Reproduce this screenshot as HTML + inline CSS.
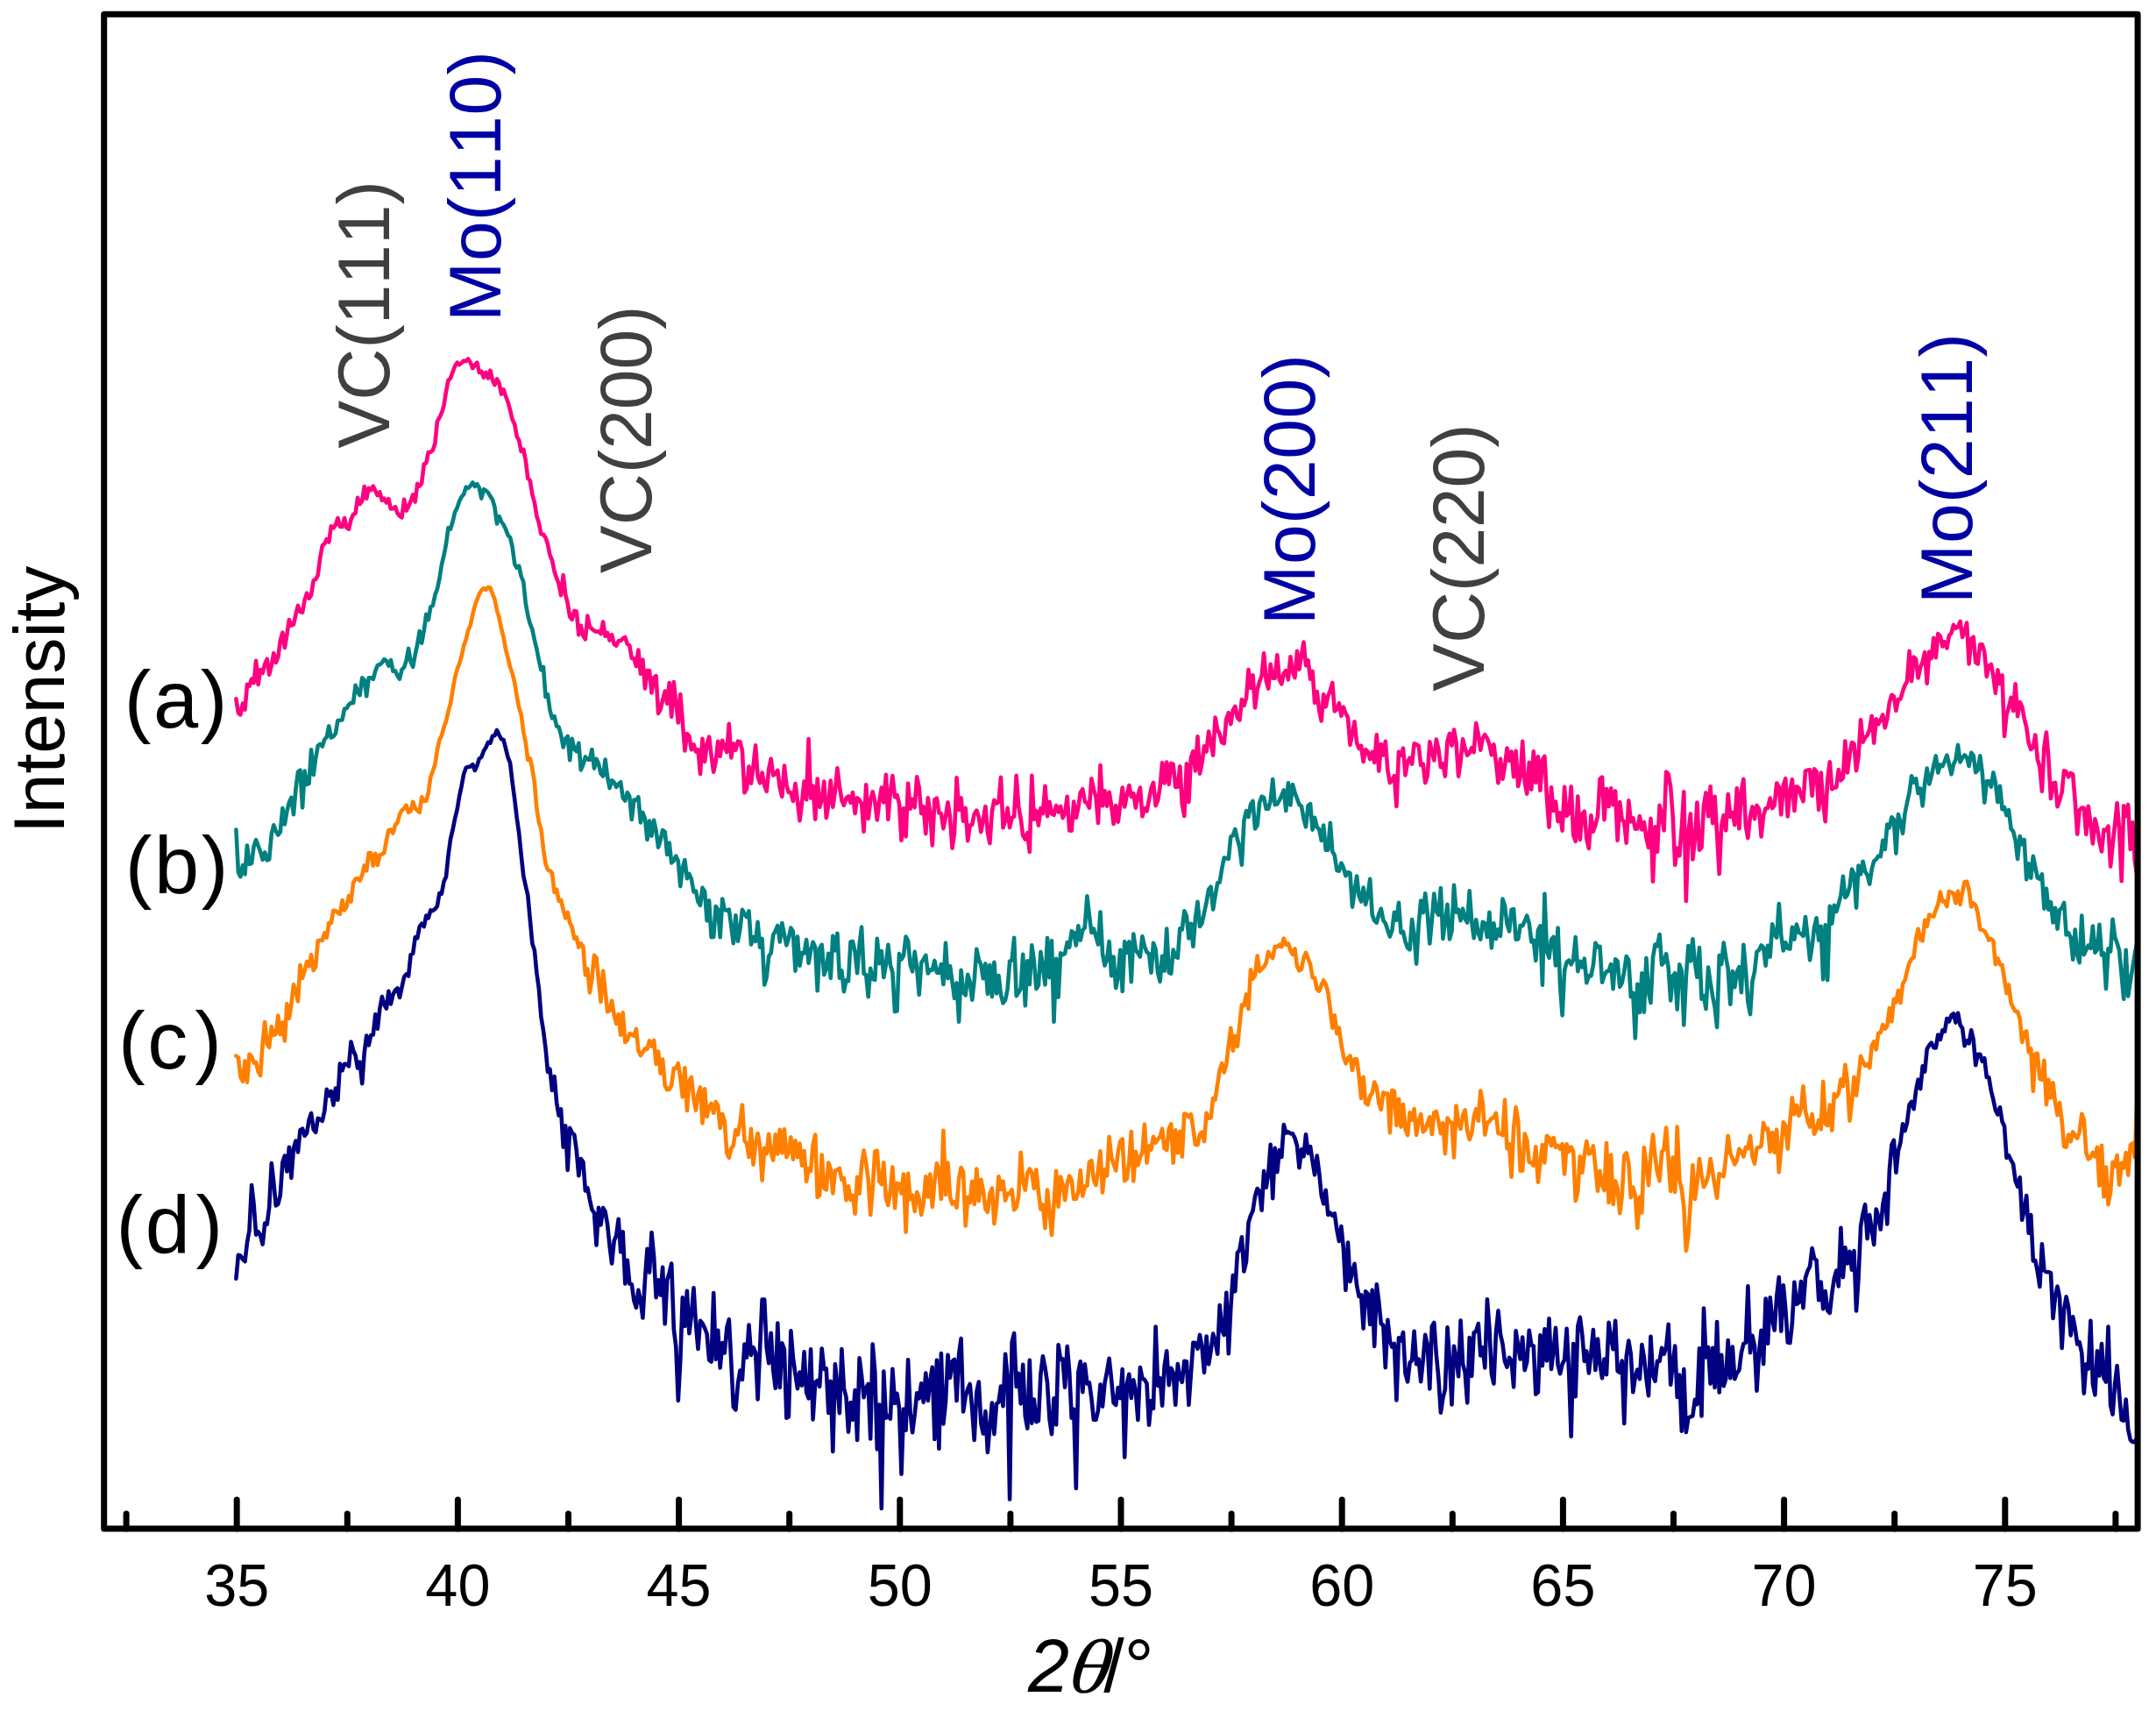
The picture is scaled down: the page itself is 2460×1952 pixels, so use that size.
<!DOCTYPE html>
<html lang="en"><head><meta charset="utf-8"><title>XRD patterns</title>
<style>
html,body{margin:0;padding:0;background:#fff;}
body{width:2460px;height:1952px;overflow:hidden;}
svg{display:block;}
text{font-family:"Liberation Sans",Arial,Helvetica,sans-serif;font-kerning:none;font-variant-ligatures:none;}
.tk{font-size:66.6px;fill:#000;text-anchor:middle;}
.lab{font-size:92px;fill:#000;letter-spacing:2.6px;}
.pk{font-size:82px;}
.vc{fill:#404040;}
.mo{fill:#0000A5;letter-spacing:0.6px;}
.ax{stroke:#000;stroke-width:7;fill:none;stroke-linecap:round;stroke-linejoin:round;}
.cv{fill:none;stroke-width:4.6;stroke-linejoin:round;stroke-linecap:round;}
</style></head><body>
<svg width="2460" height="1952" viewBox="0 0 2460 1952">
<rect x="0" y="0" width="2460" height="1952" fill="#ffffff"/>
<path class="cv" stroke="#FF0080" d="M269.4,797.3 L271.9,813.4 L274.4,815.4 L277.0,802.5 L279.5,809.7 L282.0,780.7 L284.5,782.8 L287.1,774.5 L289.6,779.1 L292.1,753.9 L294.6,781.0 L297.1,764.1 L299.7,767.8 L302.2,757.6 L304.7,751.9 L307.2,769.7 L309.8,759.2 L312.3,745.2 L314.8,756.0 L317.3,749.7 L319.8,730.8 L322.4,721.6 L324.9,739.0 L327.4,724.0 L329.9,707.0 L332.4,713.6 L335.0,712.5 L337.5,700.7 L340.0,690.9 L342.5,698.1 L345.1,698.7 L347.6,684.6 L350.1,676.6 L352.6,682.7 L355.1,678.8 L357.7,662.3 L360.2,660.8 L362.7,656.3 L365.2,636.8 L367.8,622.3 L370.3,620.4 L372.8,615.1 L375.3,618.5 L377.8,600.3 L380.4,602.3 L382.9,598.9 L385.4,591.0 L387.9,600.7 L390.5,601.1 L393.0,591.0 L395.5,602.0 L398.0,603.7 L400.5,592.7 L403.1,586.8 L405.6,585.7 L408.1,567.9 L410.6,575.1 L413.2,571.6 L415.7,555.1 L418.2,568.8 L420.7,556.8 L423.2,559.1 L425.8,554.6 L428.3,560.0 L430.8,565.2 L433.3,561.3 L435.9,571.0 L438.4,568.6 L440.9,573.5 L443.4,569.2 L445.9,580.5 L448.5,580.3 L451.0,578.2 L453.5,585.5 L456.0,588.7 L458.5,590.5 L461.1,569.7 L463.6,582.6 L466.1,577.6 L468.6,571.9 L471.2,564.3 L473.7,572.5 L476.2,551.9 L478.7,554.6 L481.2,551.3 L483.8,529.3 L486.3,528.3 L488.8,516.0 L491.3,515.7 L493.9,513.6 L496.4,506.1 L498.9,480.8 L501.4,476.4 L503.9,471.3 L506.5,462.7 L509.0,446.5 L511.5,433.7 L514.0,431.5 L516.6,424.4 L519.1,417.8 L521.6,413.6 L524.1,416.0 L526.6,414.1 L529.2,411.5 L531.7,412.1 L534.2,409.4 L536.7,413.2 L539.3,420.1 L541.8,416.5 L544.3,413.6 L546.8,424.9 L549.3,423.6 L551.9,430.6 L554.4,424.9 L556.9,431.5 L559.4,422.6 L562.0,433.9 L564.5,439.2 L567.0,432.4 L569.5,437.0 L572.0,449.6 L574.6,444.4 L577.1,452.2 L579.6,458.8 L582.1,467.9 L584.6,478.5 L587.2,484.0 L589.7,497.9 L592.2,502.2 L594.7,515.0 L597.3,512.8 L599.8,525.2 L602.3,545.7 L604.8,548.1 L607.3,563.9 L609.9,573.3 L612.4,588.6 L614.9,596.7 L617.4,609.2 L620.0,609.7 L622.5,613.3 L625.0,620.9 L627.5,633.4 L630.0,639.2 L632.6,652.0 L635.1,659.5 L637.6,666.3 L640.1,679.1 L642.7,656.0 L645.2,678.2 L647.7,688.4 L650.2,703.7 L652.7,706.7 L655.3,696.9 L657.8,697.4 L660.3,724.2 L662.8,713.8 L665.4,725.3 L667.9,729.4 L670.4,702.6 L672.9,715.4 L675.4,717.4 L678.0,719.6 L680.5,720.7 L683.0,720.3 L685.5,723.0 L688.1,709.4 L690.6,725.7 L693.1,722.0 L695.6,730.5 L698.1,724.2 L700.7,734.9 L703.2,736.6 L705.7,731.1 L708.2,730.9 L710.7,728.3 L713.3,727.0 L715.8,734.9 L718.3,736.4 L720.8,750.9 L723.4,751.3 L725.9,760.1 L728.4,741.5 L730.9,768.7 L733.4,752.6 L736.0,785.5 L738.5,765.1 L741.0,765.0 L743.5,790.4 L746.1,773.1 L748.6,771.1 L751.1,813.9 L753.6,809.6 L756.1,798.8 L758.7,788.5 L761.2,802.7 L763.7,779.1 L766.2,817.8 L768.8,778.0 L771.3,801.7 L773.8,824.5 L776.3,792.1 L778.8,823.2 L781.4,856.5 L783.9,837.1 L786.4,839.8 L788.9,855.2 L791.5,849.4 L794.0,857.5 L796.5,855.1 L799.0,883.0 L801.5,842.9 L804.1,868.9 L806.6,849.4 L809.1,840.6 L811.6,861.8 L814.2,880.7 L816.7,868.7 L819.2,845.7 L821.7,862.8 L824.2,844.9 L826.8,852.3 L829.3,858.0 L831.8,825.8 L834.3,864.4 L836.8,848.2 L839.4,855.7 L841.9,845.7 L844.4,846.2 L846.9,856.3 L849.5,904.3 L852.0,899.9 L854.5,874.6 L857.0,893.7 L859.5,874.2 L862.1,850.2 L864.6,885.9 L867.1,893.3 L869.6,881.5 L872.2,896.0 L874.7,902.8 L877.2,877.5 L879.7,865.7 L882.2,884.5 L884.8,882.8 L887.3,878.8 L889.8,898.7 L892.3,908.9 L894.9,873.6 L897.4,895.9 L899.9,904.0 L902.4,904.3 L904.9,914.0 L907.5,894.1 L910.0,914.4 L912.5,936.2 L915.0,915.6 L917.6,891.5 L920.1,912.3 L922.6,843.0 L925.1,910.5 L927.6,896.5 L930.2,934.7 L932.7,888.5 L935.2,920.8 L937.7,912.5 L940.3,891.5 L942.8,933.0 L945.3,917.3 L947.8,890.5 L950.3,920.7 L952.9,902.4 L955.4,876.4 L957.9,897.0 L960.4,912.9 L962.9,918.8 L965.5,910.5 L968.0,908.4 L970.5,915.7 L973.0,904.0 L975.6,927.9 L978.1,910.2 L980.6,912.7 L983.1,916.9 L985.6,948.7 L988.2,895.4 L990.7,933.9 L993.2,913.5 L995.7,903.3 L998.3,914.6 L1000.8,935.5 L1003.3,914.5 L1005.8,898.6 L1008.3,915.4 L1010.9,883.7 L1013.4,934.8 L1015.9,903.2 L1018.4,885.0 L1021.0,909.2 L1023.5,907.1 L1026.0,916.8 L1028.5,958.8 L1031.0,922.2 L1033.6,954.4 L1036.1,893.7 L1038.6,922.7 L1041.1,911.8 L1043.7,921.2 L1046.2,886.2 L1048.7,898.4 L1051.2,928.0 L1053.7,920.2 L1056.3,951.1 L1058.8,910.3 L1061.3,927.0 L1063.8,964.5 L1066.4,912.1 L1068.9,910.6 L1071.4,927.3 L1073.9,928.1 L1076.4,945.1 L1079.0,931.9 L1081.5,915.4 L1084.0,932.3 L1086.5,967.6 L1089.0,950.4 L1091.6,887.4 L1094.1,924.0 L1096.6,910.3 L1099.1,936.7 L1101.7,921.9 L1104.2,959.3 L1106.7,941.4 L1109.2,940.9 L1111.7,928.5 L1114.3,924.6 L1116.8,931.7 L1119.3,949.2 L1121.8,935.7 L1124.4,920.0 L1126.9,949.6 L1129.4,962.0 L1131.9,925.7 L1134.4,912.8 L1137.0,916.6 L1139.5,915.1 L1142.0,886.7 L1144.5,944.3 L1147.1,936.0 L1149.6,921.7 L1152.1,944.1 L1154.6,932.9 L1157.1,931.5 L1159.7,884.9 L1162.2,920.2 L1164.7,934.0 L1167.2,953.3 L1169.8,957.5 L1172.3,950.0 L1174.8,972.0 L1177.3,884.9 L1179.8,934.7 L1182.4,924.9 L1184.9,941.7 L1187.4,922.1 L1189.9,928.1 L1192.5,896.8 L1195.0,931.2 L1197.5,914.7 L1200.0,928.4 L1202.5,929.9 L1205.1,919.1 L1207.6,926.3 L1210.1,919.9 L1212.6,933.1 L1215.1,928.0 L1217.7,908.9 L1220.2,947.5 L1222.7,947.8 L1225.2,914.5 L1227.8,933.0 L1230.3,921.7 L1232.8,904.2 L1235.3,900.2 L1237.8,914.6 L1240.4,916.2 L1242.9,921.7 L1245.4,888.4 L1247.9,900.3 L1250.5,909.3 L1253.0,939.0 L1255.5,873.1 L1258.0,919.3 L1260.5,902.4 L1263.1,919.6 L1265.6,903.7 L1268.1,918.9 L1270.6,940.0 L1273.2,919.1 L1275.7,937.7 L1278.2,918.5 L1280.7,898.5 L1283.2,920.5 L1285.8,906.9 L1288.3,896.0 L1290.8,908.9 L1293.3,905.2 L1295.9,921.6 L1298.4,907.4 L1300.9,898.5 L1303.4,931.3 L1305.9,922.0 L1308.5,925.4 L1311.0,912.8 L1313.5,899.3 L1316.0,892.8 L1318.6,919.1 L1321.1,913.2 L1323.6,897.9 L1326.1,870.3 L1328.6,893.4 L1331.2,869.5 L1333.7,894.7 L1336.2,870.9 L1338.7,871.9 L1341.2,898.0 L1343.8,897.7 L1346.3,874.2 L1348.8,917.6 L1351.3,931.0 L1353.9,871.4 L1356.4,914.9 L1358.9,864.2 L1361.4,857.2 L1363.9,879.4 L1366.5,840.4 L1369.0,882.6 L1371.5,870.2 L1374.0,851.3 L1376.6,857.5 L1379.1,834.5 L1381.6,847.4 L1384.1,861.7 L1386.6,818.6 L1389.2,832.6 L1391.7,837.5 L1394.2,847.1 L1396.7,848.1 L1399.3,820.0 L1401.8,813.2 L1404.3,826.1 L1406.8,810.1 L1409.3,805.8 L1411.9,818.9 L1414.4,821.5 L1416.9,798.1 L1419.4,805.0 L1422.0,796.4 L1424.5,764.1 L1427.0,784.9 L1429.5,770.2 L1432.0,807.4 L1434.6,787.0 L1437.1,777.6 L1439.6,771.1 L1442.1,745.2 L1444.7,776.6 L1447.2,785.6 L1449.7,757.9 L1452.2,773.7 L1454.7,773.7 L1457.3,747.2 L1459.8,775.3 L1462.3,780.4 L1464.8,768.0 L1467.3,765.1 L1469.9,775.3 L1472.4,749.2 L1474.9,766.5 L1477.4,773.0 L1480.0,742.9 L1482.5,763.7 L1485.0,747.0 L1487.5,732.5 L1490.0,759.1 L1492.6,753.3 L1495.1,774.7 L1497.6,765.9 L1500.1,801.9 L1502.7,789.1 L1505.2,810.7 L1507.7,822.4 L1510.2,792.2 L1512.7,806.3 L1515.3,793.8 L1517.8,787.9 L1520.3,778.9 L1522.8,811.4 L1525.4,809.0 L1527.9,802.2 L1530.4,816.7 L1532.9,806.7 L1535.4,813.7 L1538.0,818.6 L1540.5,849.8 L1543.0,836.7 L1545.5,823.3 L1548.1,847.5 L1550.6,853.9 L1553.1,850.7 L1555.6,869.0 L1558.1,855.1 L1560.7,857.7 L1563.2,866.0 L1565.7,857.9 L1568.2,869.9 L1570.8,838.4 L1573.3,879.6 L1575.8,849.0 L1578.3,861.5 L1580.8,845.8 L1583.4,879.4 L1585.9,893.0 L1588.4,889.8 L1590.9,885.1 L1593.4,920.0 L1596.0,857.9 L1598.5,861.9 L1601.0,853.6 L1603.5,884.4 L1606.1,868.9 L1608.6,864.7 L1611.1,871.6 L1613.6,848.4 L1616.1,849.4 L1618.7,850.8 L1621.2,873.0 L1623.7,871.6 L1626.2,893.1 L1628.8,884.9 L1631.3,846.3 L1633.8,857.6 L1636.3,867.5 L1638.8,843.6 L1641.4,855.1 L1643.9,875.3 L1646.4,871.4 L1648.9,885.6 L1651.5,845.6 L1654.0,836.8 L1656.5,850.5 L1659.0,832.6 L1661.5,846.5 L1664.1,885.7 L1666.6,868.4 L1669.1,843.2 L1671.6,853.8 L1674.2,861.7 L1676.7,859.0 L1679.2,853.2 L1681.7,858.1 L1684.2,825.1 L1686.8,838.0 L1689.3,855.7 L1691.8,841.9 L1694.3,838.1 L1696.9,842.6 L1699.4,849.0 L1701.9,861.2 L1704.4,849.3 L1706.9,869.6 L1709.5,893.2 L1712.0,865.7 L1714.5,888.8 L1717.0,874.5 L1719.5,853.5 L1722.1,868.0 L1724.6,857.6 L1727.1,886.2 L1729.6,856.9 L1732.2,897.0 L1734.7,886.3 L1737.2,845.8 L1739.7,891.6 L1742.2,905.6 L1744.8,869.9 L1747.3,900.7 L1749.8,857.4 L1752.3,892.9 L1754.9,863.3 L1757.4,901.8 L1759.9,866.9 L1762.4,862.8 L1764.9,909.7 L1767.5,943.6 L1770.0,898.3 L1772.5,925.0 L1775.0,914.5 L1777.6,937.1 L1780.1,927.4 L1782.6,947.6 L1785.1,897.8 L1787.6,930.8 L1790.2,927.9 L1792.7,897.2 L1795.2,952.7 L1797.7,959.8 L1800.3,908.6 L1802.8,958.0 L1805.3,928.8 L1807.8,925.8 L1810.3,956.8 L1812.9,968.0 L1815.4,930.3 L1817.9,948.6 L1820.4,941.3 L1823.0,931.2 L1825.5,888.5 L1828.0,886.6 L1830.5,935.2 L1833.0,900.0 L1835.6,920.0 L1838.1,899.3 L1840.6,918.2 L1843.1,902.4 L1845.6,958.8 L1848.2,915.1 L1850.7,935.2 L1853.2,937.5 L1855.7,961.7 L1858.3,913.4 L1860.8,937.4 L1863.3,933.3 L1865.8,945.6 L1868.3,945.5 L1870.9,931.2 L1873.4,946.5 L1875.9,938.0 L1878.4,955.8 L1881.0,967.1 L1883.5,933.8 L1886.0,1005.7 L1888.5,943.2 L1891.0,971.8 L1893.6,918.9 L1896.1,929.9 L1898.6,947.5 L1901.1,880.5 L1903.7,883.3 L1906.2,898.0 L1908.7,931.2 L1911.2,986.6 L1913.7,967.5 L1916.3,976.4 L1918.8,944.8 L1921.3,903.3 L1923.8,1028.0 L1926.4,949.5 L1928.9,928.6 L1931.4,980.4 L1933.9,957.2 L1936.4,915.6 L1939.0,969.6 L1941.5,967.0 L1944.0,918.9 L1946.5,904.4 L1949.1,931.3 L1951.6,897.4 L1954.1,939.2 L1956.6,908.7 L1959.1,951.3 L1961.7,997.0 L1964.2,941.4 L1966.7,930.0 L1969.2,947.4 L1971.7,906.0 L1974.3,932.0 L1976.8,926.8 L1979.3,941.0 L1981.8,899.3 L1984.4,945.3 L1986.9,902.1 L1989.4,888.9 L1991.9,942.6 L1994.4,956.1 L1997.0,931.5 L1999.5,920.4 L2002.0,934.2 L2004.5,918.9 L2007.1,923.2 L2009.6,954.4 L2012.1,930.7 L2014.6,922.2 L2017.1,921.7 L2019.7,910.6 L2022.2,922.1 L2024.7,918.6 L2027.2,893.5 L2029.8,897.9 L2032.3,929.4 L2034.8,896.0 L2037.3,888.1 L2039.8,931.4 L2042.4,902.5 L2044.9,889.3 L2047.4,925.0 L2049.9,897.3 L2052.5,899.1 L2055.0,908.0 L2057.5,914.1 L2060.0,879.6 L2062.5,878.5 L2065.1,878.4 L2067.6,907.9 L2070.1,877.4 L2072.6,880.3 L2075.2,923.8 L2077.7,881.6 L2080.2,915.7 L2082.7,937.3 L2085.2,889.6 L2087.8,869.3 L2090.3,900.3 L2092.8,898.8 L2095.3,898.0 L2097.8,878.1 L2100.4,890.3 L2102.9,887.5 L2105.4,845.5 L2107.9,881.4 L2110.5,860.2 L2113.0,847.0 L2115.5,848.7 L2118.0,879.2 L2120.5,863.9 L2123.1,821.2 L2125.6,846.6 L2128.1,841.4 L2130.6,838.9 L2133.2,832.1 L2135.7,816.7 L2138.2,847.6 L2140.7,820.2 L2143.2,826.2 L2145.8,821.1 L2148.3,815.4 L2150.8,830.3 L2153.3,820.3 L2155.9,801.3 L2158.4,792.8 L2160.9,794.4 L2163.4,810.8 L2165.9,798.1 L2168.5,797.5 L2171.0,788.6 L2173.5,781.9 L2176.0,777.3 L2178.6,742.9 L2181.1,777.2 L2183.6,749.6 L2186.1,752.2 L2188.6,773.5 L2191.2,761.1 L2193.7,755.2 L2196.2,744.0 L2198.7,779.8 L2201.3,743.5 L2203.8,751.1 L2206.3,727.7 L2208.8,750.2 L2211.3,723.0 L2213.9,725.8 L2216.4,737.4 L2218.9,732.2 L2221.4,739.5 L2223.9,725.0 L2226.5,722.3 L2229.0,712.9 L2231.5,716.8 L2234.0,715.3 L2236.6,708.9 L2239.1,727.0 L2241.6,720.6 L2244.1,710.6 L2246.6,757.4 L2249.2,728.8 L2251.7,726.8 L2254.2,755.7 L2256.7,757.5 L2259.3,735.2 L2261.8,735.3 L2264.3,744.2 L2266.8,771.9 L2269.3,759.5 L2271.9,758.0 L2274.4,771.6 L2276.9,790.7 L2279.4,764.4 L2282.0,780.1 L2284.5,770.4 L2287.0,840.0 L2289.5,815.1 L2292.0,806.9 L2294.6,795.8 L2297.1,811.0 L2299.6,780.4 L2302.1,817.1 L2304.7,801.0 L2307.2,806.2 L2309.7,819.7 L2312.2,829.6 L2314.7,847.8 L2317.3,854.9 L2319.8,852.5 L2322.3,838.5 L2324.8,866.3 L2327.4,874.8 L2329.9,902.8 L2332.4,852.5 L2334.9,835.5 L2337.4,865.6 L2340.0,911.0 L2342.5,893.7 L2345.0,892.8 L2347.5,920.3 L2350.0,913.3 L2352.6,904.0 L2355.1,879.2 L2357.6,880.4 L2360.1,886.4 L2362.7,881.9 L2365.2,883.4 L2367.7,914.2 L2370.2,951.6 L2372.7,924.2 L2375.3,921.6 L2377.8,921.9 L2380.3,951.9 L2382.8,919.7 L2385.4,939.9 L2387.9,962.5 L2390.4,934.4 L2392.9,944.4 L2395.4,959.8 L2398.0,971.4 L2400.5,946.6 L2403.0,947.5 L2405.5,942.6 L2408.1,988.4 L2410.6,963.4 L2413.1,940.7 L2415.6,916.2 L2418.1,946.4 L2420.7,1005.1 L2423.2,919.2 L2425.7,930.9 L2428.2,917.9 L2430.8,968.9 L2433.3,938.3 L2435.8,981.9 L2438.4,998.9"/>
<path class="cv" stroke="#008080" d="M269.4,946.5 L271.9,995.1 L274.4,1000.2 L277.0,987.0 L279.5,997.5 L282.0,964.5 L284.5,986.0 L287.1,984.9 L289.6,965.4 L292.1,958.1 L294.6,965.0 L297.1,971.7 L299.7,980.8 L302.2,972.4 L304.7,981.5 L307.2,980.4 L309.8,951.5 L312.3,941.3 L314.8,948.2 L317.3,952.5 L319.8,949.3 L322.4,922.0 L324.9,940.4 L327.4,925.6 L329.9,915.4 L332.4,909.9 L335.0,929.1 L337.5,899.7 L340.0,880.5 L342.5,878.6 L345.1,921.4 L347.6,879.5 L350.1,894.9 L352.6,893.8 L355.1,855.4 L357.7,883.9 L360.2,865.2 L362.7,850.8 L365.2,848.8 L367.8,851.5 L370.3,843.5 L372.8,840.9 L375.3,828.4 L377.8,841.5 L380.4,840.1 L382.9,836.8 L385.4,822.1 L387.9,821.9 L390.5,821.2 L393.0,808.8 L395.5,808.1 L398.0,803.9 L400.5,801.7 L403.1,801.9 L405.6,781.8 L408.1,789.5 L410.6,793.1 L413.2,773.3 L415.7,775.9 L418.2,794.3 L420.7,773.3 L423.2,773.3 L425.8,774.8 L428.3,765.3 L430.8,759.0 L433.3,758.3 L435.9,756.0 L438.4,752.1 L440.9,753.8 L443.4,759.6 L445.9,753.0 L448.5,765.8 L451.0,765.4 L453.5,771.0 L456.0,774.6 L458.5,763.9 L461.1,761.4 L463.6,753.7 L466.1,739.9 L468.6,754.8 L471.2,760.8 L473.7,746.9 L476.2,735.3 L478.7,720.0 L481.2,733.7 L483.8,719.1 L486.3,700.8 L488.8,707.0 L491.3,692.4 L493.9,690.8 L496.4,678.7 L498.9,672.2 L501.4,660.3 L503.9,644.4 L506.5,633.6 L509.0,620.7 L511.5,602.1 L514.0,603.6 L516.6,595.0 L519.1,584.1 L521.6,579.4 L524.1,571.7 L526.6,566.9 L529.2,563.7 L531.7,555.7 L534.2,556.9 L536.7,554.4 L539.3,550.4 L541.8,555.0 L544.3,552.1 L546.8,556.4 L549.3,568.6 L551.9,558.2 L554.4,559.6 L556.9,561.9 L559.4,566.1 L562.0,570.0 L564.5,578.7 L567.0,597.5 L569.5,589.0 L572.0,595.0 L574.6,598.7 L577.1,603.9 L579.6,610.8 L582.1,613.1 L584.6,623.6 L587.2,643.3 L589.7,647.8 L592.2,645.7 L594.7,657.5 L597.3,663.9 L599.8,688.4 L602.3,702.3 L604.8,711.6 L607.3,717.6 L609.9,730.3 L612.4,740.6 L614.9,753.2 L617.4,764.3 L620.0,760.9 L622.5,795.0 L625.0,792.3 L627.5,810.5 L630.0,819.4 L632.6,817.3 L635.1,828.6 L637.6,829.5 L640.1,838.4 L642.7,852.5 L645.2,842.8 L647.7,839.9 L650.2,867.3 L652.7,842.9 L655.3,854.6 L657.8,857.2 L660.3,847.8 L662.8,878.5 L665.4,872.0 L667.9,863.4 L670.4,866.4 L672.9,866.8 L675.4,855.0 L678.0,876.6 L680.5,865.8 L683.0,871.4 L685.5,882.4 L688.1,885.5 L690.6,866.6 L693.1,886.3 L695.6,899.1 L698.1,890.3 L700.7,892.6 L703.2,897.9 L705.7,894.4 L708.2,892.2 L710.7,910.1 L713.3,913.5 L715.8,904.2 L718.3,908.7 L720.8,935.0 L723.4,912.5 L725.9,912.8 L728.4,909.3 L730.9,938.4 L733.4,926.9 L736.0,934.2 L738.5,957.9 L741.0,936.5 L743.5,953.7 L746.1,935.7 L748.6,947.6 L751.1,966.7 L753.6,958.4 L756.1,947.1 L758.7,949.0 L761.2,975.0 L763.7,961.5 L766.2,984.4 L768.8,981.8 L771.3,976.6 L773.8,982.4 L776.3,1011.1 L778.8,990.1 L781.4,981.0 L783.9,1002.3 L786.4,997.0 L788.9,1002.8 L791.5,1017.4 L794.0,1016.5 L796.5,1028.9 L799.0,1032.9 L801.5,1012.9 L804.1,1017.1 L806.6,1050.4 L809.1,1027.4 L811.6,1069.1 L814.2,1069.0 L816.7,1034.0 L819.2,1037.9 L821.7,1069.3 L824.2,1025.5 L826.8,1038.1 L829.3,1038.7 L831.8,1037.7 L834.3,1056.3 L836.8,1076.1 L839.4,1044.3 L841.9,1073.8 L844.4,1060.3 L846.9,1037.9 L849.5,1042.3 L852.0,1046.2 L854.5,1039.4 L857.0,1077.5 L859.5,1069.0 L862.1,1074.0 L864.6,1051.9 L867.1,1080.8 L869.6,1070.9 L872.2,1123.5 L874.7,1115.0 L877.2,1091.1 L879.7,1087.2 L882.2,1066.7 L884.8,1062.0 L887.3,1056.0 L889.8,1074.5 L892.3,1053.1 L894.9,1066.3 L897.4,1078.3 L899.9,1070.3 L902.4,1058.6 L904.9,1062.8 L907.5,1107.6 L910.0,1068.5 L912.5,1101.8 L915.0,1087.0 L917.6,1087.4 L920.1,1072.0 L922.6,1098.8 L925.1,1084.4 L927.6,1074.8 L930.2,1080.6 L932.7,1130.3 L935.2,1082.0 L937.7,1077.8 L940.3,1112.1 L942.8,1105.1 L945.3,1087.7 L947.8,1115.9 L950.3,1067.7 L952.9,1084.4 L955.4,1064.7 L957.9,1115.7 L960.4,1107.4 L962.9,1131.2 L965.5,1118.2 L968.0,1119.1 L970.5,1074.4 L973.0,1073.9 L975.6,1086.2 L978.1,1110.3 L980.6,1077.5 L983.1,1057.6 L985.6,1110.7 L988.2,1112.2 L990.7,1137.2 L993.2,1104.9 L995.7,1116.8 L998.3,1117.8 L1000.8,1070.9 L1003.3,1099.1 L1005.8,1084.9 L1008.3,1115.0 L1010.9,1100.2 L1013.4,1077.9 L1015.9,1100.8 L1018.4,1109.4 L1021.0,1154.0 L1023.5,1153.5 L1026.0,1088.0 L1028.5,1094.6 L1031.0,1090.3 L1033.6,1068.5 L1036.1,1073.3 L1038.6,1100.2 L1041.1,1108.3 L1043.7,1085.9 L1046.2,1104.6 L1048.7,1134.9 L1051.2,1098.4 L1053.7,1094.4 L1056.3,1089.8 L1058.8,1110.5 L1061.3,1106.3 L1063.8,1106.8 L1066.4,1095.9 L1068.9,1109.7 L1071.4,1109.9 L1073.9,1100.1 L1076.4,1123.0 L1079.0,1075.9 L1081.5,1116.3 L1084.0,1102.1 L1086.5,1119.7 L1089.0,1138.9 L1091.6,1121.4 L1094.1,1165.6 L1096.6,1106.8 L1099.1,1132.1 L1101.7,1135.4 L1104.2,1111.8 L1106.7,1120.4 L1109.2,1140.7 L1111.7,1118.6 L1114.3,1082.7 L1116.8,1094.8 L1119.3,1100.7 L1121.8,1116.3 L1124.4,1099.4 L1126.9,1133.9 L1129.4,1101.1 L1131.9,1137.2 L1134.4,1097.9 L1137.0,1133.4 L1139.5,1113.0 L1142.0,1134.9 L1144.5,1144.5 L1147.1,1140.8 L1149.6,1128.4 L1152.1,1096.7 L1154.6,1095.6 L1157.1,1069.9 L1159.7,1136.2 L1162.2,1132.3 L1164.7,1127.6 L1167.2,1088.9 L1169.8,1147.3 L1172.3,1096.2 L1174.8,1123.1 L1177.3,1078.4 L1179.8,1095.9 L1182.4,1128.1 L1184.9,1124.1 L1187.4,1086.1 L1189.9,1103.1 L1192.5,1123.4 L1195.0,1070.1 L1197.5,1115.1 L1200.0,1073.3 L1202.5,1165.6 L1205.1,1093.9 L1207.6,1137.7 L1210.1,1087.3 L1212.6,1089.1 L1215.1,1087.9 L1217.7,1075.1 L1220.2,1080.7 L1222.7,1062.4 L1225.2,1064.1 L1227.8,1078.6 L1230.3,1056.3 L1232.8,1072.6 L1235.3,1061.3 L1237.8,1058.0 L1240.4,1022.3 L1242.9,1044.4 L1245.4,1064.0 L1247.9,1059.6 L1250.5,1068.7 L1253.0,1077.5 L1255.5,1040.5 L1258.0,1088.2 L1260.5,1101.5 L1263.1,1094.4 L1265.6,1074.1 L1268.1,1113.3 L1270.6,1091.6 L1273.2,1127.2 L1275.7,1114.9 L1278.2,1083.9 L1280.7,1130.9 L1283.2,1074.2 L1285.8,1086.8 L1288.3,1074.4 L1290.8,1120.2 L1293.3,1065.5 L1295.9,1083.9 L1298.4,1087.4 L1300.9,1091.5 L1303.4,1068.2 L1305.9,1079.7 L1308.5,1086.1 L1311.0,1088.1 L1313.5,1109.7 L1316.0,1075.9 L1318.6,1083.0 L1321.1,1109.7 L1323.6,1119.9 L1326.1,1090.7 L1328.6,1107.7 L1331.2,1059.6 L1333.7,1109.4 L1336.2,1110.7 L1338.7,1083.5 L1341.2,1091.4 L1343.8,1092.8 L1346.3,1059.2 L1348.8,1060.5 L1351.3,1039.3 L1353.9,1045.0 L1356.4,1070.5 L1358.9,1053.7 L1361.4,1079.8 L1363.9,1048.1 L1366.5,1028.9 L1369.0,1057.0 L1371.5,1053.4 L1374.0,1041.4 L1376.6,1029.2 L1379.1,1014.6 L1381.6,1011.8 L1384.1,1037.6 L1386.6,1021.9 L1389.2,1007.3 L1391.7,1006.5 L1394.2,991.1 L1396.7,978.5 L1399.3,979.4 L1401.8,979.8 L1404.3,954.6 L1406.8,953.3 L1409.3,945.9 L1411.9,957.6 L1414.4,966.4 L1416.9,986.7 L1419.4,936.3 L1422.0,925.0 L1424.5,932.0 L1427.0,917.8 L1429.5,913.9 L1432.0,945.4 L1434.6,941.7 L1437.1,915.8 L1439.6,908.7 L1442.1,909.9 L1444.7,922.7 L1447.2,922.6 L1449.7,913.7 L1452.2,889.0 L1454.7,918.1 L1457.3,917.4 L1459.8,912.9 L1462.3,907.7 L1464.8,901.4 L1467.3,924.9 L1469.9,893.2 L1472.4,918.4 L1474.9,895.0 L1477.4,903.9 L1480.0,911.2 L1482.5,917.9 L1485.0,919.8 L1487.5,933.9 L1490.0,943.3 L1492.6,919.0 L1495.1,917.2 L1497.6,946.7 L1500.1,932.8 L1502.7,943.7 L1505.2,946.1 L1507.7,958.9 L1510.2,941.6 L1512.7,969.8 L1515.3,969.6 L1517.8,938.8 L1520.3,971.4 L1522.8,975.9 L1525.4,993.0 L1527.9,993.7 L1530.4,984.6 L1532.9,989.9 L1535.4,999.2 L1538.0,995.1 L1540.5,996.2 L1543.0,1034.7 L1545.5,1017.1 L1548.1,999.6 L1550.6,1022.2 L1553.1,1028.5 L1555.6,1012.5 L1558.1,1031.9 L1560.7,1020.9 L1563.2,1002.7 L1565.7,1043.6 L1568.2,1050.4 L1570.8,1052.7 L1573.3,1042.9 L1575.8,1036.6 L1578.3,1049.8 L1580.8,1053.3 L1583.4,1061.4 L1585.9,1068.5 L1588.4,1061.2 L1590.9,1040.7 L1593.4,1049.8 L1596.0,1029.8 L1598.5,1064.0 L1601.0,1063.0 L1603.5,1074.2 L1606.1,1081.4 L1608.6,1083.4 L1611.1,1049.1 L1613.6,1066.9 L1616.1,1099.7 L1618.7,1054.5 L1621.2,1027.6 L1623.7,1041.2 L1626.2,1019.2 L1628.8,1042.7 L1631.3,1076.5 L1633.8,1049.8 L1636.3,1019.6 L1638.8,1039.6 L1641.4,1043.7 L1643.9,1013.1 L1646.4,1070.9 L1648.9,1052.1 L1651.5,1031.9 L1654.0,1071.5 L1656.5,1062.2 L1659.0,1009.8 L1661.5,1040.8 L1664.1,1037.8 L1666.6,1050.2 L1669.1,1036.8 L1671.6,1048.3 L1674.2,1052.5 L1676.7,1016.4 L1679.2,1051.2 L1681.7,1070.1 L1684.2,1049.3 L1686.8,1065.0 L1689.3,1071.7 L1691.8,1051.7 L1694.3,1053.4 L1696.9,1069.0 L1699.4,1040.8 L1701.9,1081.4 L1704.4,1053.3 L1706.9,1071.3 L1709.5,1060.3 L1712.0,1067.9 L1714.5,1025.6 L1717.0,1033.3 L1719.5,1054.0 L1722.1,1062.5 L1724.6,1037.7 L1727.1,1037.2 L1729.6,1071.8 L1732.2,1071.5 L1734.7,1055.9 L1737.2,1056.3 L1739.7,1051.1 L1742.2,1044.7 L1744.8,1053.4 L1747.3,1074.5 L1749.8,1072.6 L1752.3,1095.9 L1754.9,1061.3 L1757.4,1056.4 L1759.9,1123.6 L1762.4,1019.8 L1764.9,1085.0 L1767.5,1092.7 L1770.0,1072.0 L1772.5,1068.9 L1775.0,1101.5 L1777.6,1058.5 L1780.1,1124.6 L1782.6,1158.4 L1785.1,1107.2 L1787.6,1097.7 L1790.2,1095.5 L1792.7,1100.2 L1795.2,1094.8 L1797.7,1069.1 L1800.3,1108.2 L1802.8,1096.8 L1805.3,1103.4 L1807.8,1093.7 L1810.3,1121.3 L1812.9,1113.1 L1815.4,1113.4 L1817.9,1101.0 L1820.4,1075.7 L1823.0,1080.4 L1825.5,1079.8 L1828.0,1120.7 L1830.5,1112.9 L1833.0,1108.3 L1835.6,1107.6 L1838.1,1100.1 L1840.6,1128.2 L1843.1,1094.2 L1845.6,1096.7 L1848.2,1126.0 L1850.7,1121.3 L1853.2,1108.4 L1855.7,1091.1 L1858.3,1095.2 L1860.8,1137.1 L1863.3,1132.8 L1865.8,1184.5 L1868.3,1122.7 L1870.9,1155.0 L1873.4,1110.3 L1875.9,1154.7 L1878.4,1093.0 L1881.0,1132.2 L1883.5,1144.1 L1886.0,1092.2 L1888.5,1077.6 L1891.0,1079.3 L1893.6,1066.0 L1896.1,1100.6 L1898.6,1097.8 L1901.1,1088.2 L1903.7,1104.3 L1906.2,1141.4 L1908.7,1113.4 L1911.2,1110.3 L1913.7,1151.7 L1916.3,1100.4 L1918.8,1107.5 L1921.3,1169.4 L1923.8,1115.0 L1926.4,1079.0 L1928.9,1096.5 L1931.4,1071.4 L1933.9,1098.2 L1936.4,1114.8 L1939.0,1081.1 L1941.5,1139.6 L1944.0,1136.3 L1946.5,1151.0 L1949.1,1103.6 L1951.6,1121.4 L1954.1,1136.4 L1956.6,1149.3 L1959.1,1172.0 L1961.7,1090.1 L1964.2,1099.9 L1966.7,1075.6 L1969.2,1091.9 L1971.7,1105.7 L1974.3,1145.8 L1976.8,1108.0 L1979.3,1126.3 L1981.8,1108.9 L1984.4,1103.2 L1986.9,1132.3 L1989.4,1077.7 L1991.9,1106.8 L1994.4,1143.1 L1997.0,1157.2 L1999.5,1119.5 L2002.0,1108.6 L2004.5,1085.8 L2007.1,1083.9 L2009.6,1078.5 L2012.1,1080.7 L2014.6,1101.8 L2017.1,1078.9 L2019.7,1091.6 L2022.2,1054.2 L2024.7,1066.0 L2027.2,1069.7 L2029.8,1031.0 L2032.3,1067.2 L2034.8,1084.4 L2037.3,1075.3 L2039.8,1081.9 L2042.4,1082.6 L2044.9,1057.9 L2047.4,1071.6 L2049.9,1054.6 L2052.5,1063.7 L2055.0,1065.2 L2057.5,1067.8 L2060.0,1046.1 L2062.5,1068.4 L2065.1,1095.4 L2067.6,1079.5 L2070.1,1058.0 L2072.6,1047.3 L2075.2,1072.7 L2077.7,1056.8 L2080.2,1117.3 L2082.7,1055.4 L2085.2,1118.2 L2087.8,1033.7 L2090.3,1053.6 L2092.8,1032.7 L2095.3,1040.0 L2097.8,1031.5 L2100.4,1021.5 L2102.9,999.9 L2105.4,1024.0 L2107.9,1020.8 L2110.5,1011.5 L2113.0,991.6 L2115.5,996.9 L2118.0,1035.6 L2120.5,987.5 L2123.1,997.4 L2125.6,982.7 L2128.1,994.3 L2130.6,998.2 L2133.2,1008.6 L2135.7,991.6 L2138.2,982.3 L2140.7,980.5 L2143.2,976.6 L2145.8,977.1 L2148.3,958.9 L2150.8,969.0 L2153.3,940.5 L2155.9,944.1 L2158.4,932.3 L2160.9,935.1 L2163.4,973.6 L2165.9,929.1 L2168.5,938.0 L2171.0,950.8 L2173.5,928.1 L2176.0,915.6 L2178.6,904.1 L2181.1,885.3 L2183.6,892.6 L2186.1,888.3 L2188.6,905.0 L2191.2,899.6 L2193.7,919.4 L2196.2,893.6 L2198.7,876.6 L2201.3,894.4 L2203.8,885.1 L2206.3,873.2 L2208.8,862.4 L2211.3,881.5 L2213.9,872.4 L2216.4,874.1 L2218.9,868.6 L2221.4,861.6 L2223.9,871.5 L2226.5,883.3 L2229.0,872.0 L2231.5,866.6 L2234.0,849.9 L2236.6,869.4 L2239.1,864.5 L2241.6,861.4 L2244.1,864.1 L2246.6,874.0 L2249.2,858.8 L2251.7,861.9 L2254.2,881.3 L2256.7,878.5 L2259.3,862.2 L2261.8,881.7 L2264.3,915.6 L2266.8,891.2 L2269.3,891.2 L2271.9,897.6 L2274.4,881.4 L2276.9,893.1 L2279.4,915.1 L2282.0,896.9 L2284.5,923.2 L2287.0,921.0 L2289.5,930.1 L2292.0,924.2 L2294.6,945.6 L2297.1,948.5 L2299.6,958.5 L2302.1,979.9 L2304.7,954.1 L2307.2,963.2 L2309.7,958.1 L2312.2,1003.3 L2314.7,985.3 L2317.3,1001.6 L2319.8,976.8 L2322.3,989.2 L2324.8,1001.5 L2327.4,1002.9 L2329.9,997.4 L2332.4,1036.7 L2334.9,1013.8 L2337.4,1037.8 L2340.0,1029.1 L2342.5,1052.5 L2345.0,1035.8 L2347.5,1059.8 L2350.0,1037.8 L2352.6,1036.1 L2355.1,1029.8 L2357.6,1066.5 L2360.1,1064.5 L2362.7,1069.6 L2365.2,1094.8 L2367.7,1060.6 L2370.2,1089.5 L2372.7,1098.2 L2375.3,1044.6 L2377.8,1089.1 L2380.3,1083.8 L2382.8,1078.6 L2385.4,1081.9 L2387.9,1056.5 L2390.4,1086.8 L2392.9,1083.4 L2395.4,1054.9 L2398.0,1089.6 L2400.5,1087.4 L2403.0,1128.2 L2405.5,1082.2 L2408.1,1085.4 L2410.6,1048.7 L2413.1,1069.0 L2415.6,1076.0 L2418.1,1084.2 L2420.7,1112.9 L2423.2,1139.8 L2425.7,1083.9 L2428.2,1136.4 L2430.8,1119.1 L2433.3,1103.8 L2435.8,1088.3 L2438.4,1075.5"/>
<path class="cv" stroke="#FF8000" d="M269.4,1204.6 L271.9,1206.3 L274.4,1228.2 L277.0,1233.9 L279.5,1210.6 L282.0,1234.6 L284.5,1202.7 L287.1,1205.3 L289.6,1212.5 L292.1,1211.8 L294.6,1222.4 L297.1,1227.0 L299.7,1189.4 L302.2,1166.1 L304.7,1191.1 L307.2,1194.8 L309.8,1171.3 L312.3,1180.9 L314.8,1179.6 L317.3,1158.7 L319.8,1180.3 L322.4,1166.5 L324.9,1187.5 L327.4,1145.3 L329.9,1162.0 L332.4,1145.9 L335.0,1123.3 L337.5,1130.7 L340.0,1142.3 L342.5,1101.0 L345.1,1115.9 L347.6,1107.7 L350.1,1097.0 L352.6,1102.4 L355.1,1089.2 L357.7,1107.2 L360.2,1102.9 L362.7,1073.5 L365.2,1072.6 L367.8,1073.0 L370.3,1064.3 L372.8,1069.7 L375.3,1052.8 L377.8,1053.1 L380.4,1038.7 L382.9,1039.0 L385.4,1041.2 L387.9,1042.8 L390.5,1027.1 L393.0,1038.4 L395.5,1034.2 L398.0,1022.1 L400.5,1028.5 L403.1,1007.4 L405.6,1002.5 L408.1,1002.1 L410.6,1004.8 L413.2,998.4 L415.7,987.4 L418.2,993.4 L420.7,973.0 L423.2,973.3 L425.8,987.6 L428.3,973.8 L430.8,986.9 L433.3,975.4 L435.9,974.7 L438.4,972.8 L440.9,958.8 L443.4,947.1 L445.9,946.4 L448.5,950.6 L451.0,941.2 L453.5,938.4 L456.0,929.3 L458.5,924.4 L461.1,922.2 L463.6,918.6 L466.1,926.7 L468.6,925.4 L471.2,914.8 L473.7,922.1 L476.2,924.5 L478.7,926.8 L481.2,909.4 L483.8,913.9 L486.3,913.7 L488.8,904.3 L491.3,886.4 L493.9,879.6 L496.4,872.1 L498.9,855.8 L501.4,844.1 L503.9,839.4 L506.5,829.6 L509.0,822.9 L511.5,811.6 L514.0,802.9 L516.6,787.2 L519.1,772.8 L521.6,763.6 L524.1,757.3 L526.6,748.8 L529.2,736.4 L531.7,729.9 L534.2,718.8 L536.7,713.8 L539.3,701.3 L541.8,691.1 L544.3,684.1 L546.8,677.6 L549.3,673.7 L551.9,671.1 L554.4,672.9 L556.9,669.9 L559.4,670.5 L562.0,677.6 L564.5,683.7 L567.0,696.3 L569.5,704.7 L572.0,716.9 L574.6,727.2 L577.1,741.2 L579.6,750.7 L582.1,761.3 L584.6,767.9 L587.2,778.6 L589.7,794.3 L592.2,807.4 L594.7,815.2 L597.3,835.1 L599.8,847.4 L602.3,867.0 L604.8,865.2 L607.3,876.3 L609.9,892.9 L612.4,922.7 L614.9,938.2 L617.4,945.8 L620.0,968.6 L622.5,985.4 L625.0,992.2 L627.5,993.4 L630.0,995.9 L632.6,1018.0 L635.1,1014.6 L637.6,1027.9 L640.1,1026.8 L642.7,1038.0 L645.2,1047.3 L647.7,1041.0 L650.2,1052.7 L652.7,1057.8 L655.3,1070.8 L657.8,1069.3 L660.3,1080.7 L662.8,1076.3 L665.4,1080.0 L667.9,1112.2 L670.4,1105.4 L672.9,1132.4 L675.4,1116.8 L678.0,1089.9 L680.5,1092.7 L683.0,1117.7 L685.5,1142.9 L688.1,1107.8 L690.6,1130.4 L693.1,1154.3 L695.6,1152.7 L698.1,1141.7 L700.7,1157.9 L703.2,1168.0 L705.7,1157.1 L708.2,1180.8 L710.7,1155.4 L713.3,1189.0 L715.8,1186.6 L718.3,1179.2 L720.8,1179.9 L723.4,1181.8 L725.9,1173.9 L728.4,1198.5 L730.9,1204.1 L733.4,1200.4 L736.0,1196.4 L738.5,1196.9 L741.0,1187.3 L743.5,1193.6 L746.1,1186.8 L748.6,1213.9 L751.1,1199.5 L753.6,1224.6 L756.1,1208.5 L758.7,1238.4 L761.2,1243.3 L763.7,1242.9 L766.2,1237.9 L768.8,1218.9 L771.3,1218.8 L773.8,1213.2 L776.3,1229.4 L778.8,1251.4 L781.4,1218.4 L783.9,1267.0 L786.4,1233.3 L788.9,1229.0 L791.5,1253.8 L794.0,1266.8 L796.5,1248.3 L799.0,1240.4 L801.5,1281.4 L804.1,1242.2 L806.6,1273.9 L809.1,1263.3 L811.6,1259.0 L814.2,1269.7 L816.7,1257.2 L819.2,1261.2 L821.7,1287.0 L824.2,1270.9 L826.8,1279.4 L829.3,1315.3 L831.8,1320.8 L834.3,1310.2 L836.8,1306.9 L839.4,1289.0 L841.9,1294.4 L844.4,1281.3 L846.9,1260.6 L849.5,1301.3 L852.0,1304.7 L854.5,1320.0 L857.0,1287.9 L859.5,1328.7 L862.1,1304.4 L864.6,1293.0 L867.1,1307.9 L869.6,1346.6 L872.2,1309.8 L874.7,1316.1 L877.2,1293.7 L879.7,1314.6 L882.2,1323.6 L884.8,1294.3 L887.3,1316.5 L889.8,1288.8 L892.3,1315.4 L894.9,1288.2 L897.4,1320.2 L899.9,1314.5 L902.4,1297.2 L904.9,1322.6 L907.5,1301.4 L910.0,1320.2 L912.5,1304.6 L915.0,1329.8 L917.6,1313.0 L920.1,1347.9 L922.6,1333.1 L925.1,1336.0 L927.6,1305.9 L930.2,1294.6 L932.7,1365.8 L935.2,1363.6 L937.7,1317.5 L940.3,1355.7 L942.8,1357.3 L945.3,1326.6 L947.8,1334.1 L950.3,1361.4 L952.9,1335.7 L955.4,1334.6 L957.9,1333.0 L960.4,1345.9 L962.9,1344.1 L965.5,1369.3 L968.0,1353.2 L970.5,1368.8 L973.0,1363.9 L975.6,1384.8 L978.1,1342.9 L980.6,1361.8 L983.1,1329.0 L985.6,1312.5 L988.2,1326.9 L990.7,1345.7 L993.2,1386.0 L995.7,1356.5 L998.3,1313.6 L1000.8,1312.8 L1003.3,1347.6 L1005.8,1351.0 L1008.3,1326.4 L1010.9,1367.5 L1013.4,1375.0 L1015.9,1358.9 L1018.4,1331.5 L1021.0,1378.2 L1023.5,1349.8 L1026.0,1350.8 L1028.5,1361.6 L1031.0,1339.5 L1033.6,1405.6 L1036.1,1338.9 L1038.6,1368.3 L1041.1,1363.6 L1043.7,1382.0 L1046.2,1360.0 L1048.7,1367.0 L1051.2,1386.0 L1053.7,1372.6 L1056.3,1342.3 L1058.8,1365.5 L1061.3,1339.6 L1063.8,1376.9 L1066.4,1347.2 L1068.9,1327.2 L1071.4,1335.4 L1073.9,1368.0 L1076.4,1289.7 L1079.0,1362.9 L1081.5,1326.6 L1084.0,1365.3 L1086.5,1373.6 L1089.0,1371.3 L1091.6,1377.6 L1094.1,1344.9 L1096.6,1332.0 L1099.1,1337.1 L1101.7,1398.5 L1104.2,1365.8 L1106.7,1372.0 L1109.2,1347.9 L1111.7,1374.0 L1114.3,1333.6 L1116.8,1370.1 L1119.3,1345.8 L1121.8,1358.3 L1124.4,1379.3 L1126.9,1382.9 L1129.4,1361.8 L1131.9,1355.7 L1134.4,1396.0 L1137.0,1375.5 L1139.5,1342.2 L1142.0,1356.9 L1144.5,1347.6 L1147.1,1369.6 L1149.6,1361.5 L1152.1,1362.2 L1154.6,1357.2 L1157.1,1380.3 L1159.7,1377.1 L1162.2,1364.5 L1164.7,1314.7 L1167.2,1347.6 L1169.8,1357.6 L1172.3,1338.3 L1174.8,1333.6 L1177.3,1337.2 L1179.8,1355.6 L1182.4,1334.6 L1184.9,1359.9 L1187.4,1379.5 L1189.9,1374.3 L1192.5,1401.1 L1195.0,1357.5 L1197.5,1382.2 L1200.0,1409.0 L1202.5,1373.6 L1205.1,1336.0 L1207.6,1376.7 L1210.1,1342.6 L1212.6,1351.8 L1215.1,1369.2 L1217.7,1350.2 L1220.2,1341.5 L1222.7,1346.4 L1225.2,1368.0 L1227.8,1367.8 L1230.3,1359.5 L1232.8,1335.4 L1235.3,1364.5 L1237.8,1353.6 L1240.4,1353.0 L1242.9,1325.9 L1245.4,1324.1 L1247.9,1345.9 L1250.5,1352.1 L1253.0,1334.9 L1255.5,1313.3 L1258.0,1360.4 L1260.5,1334.1 L1263.1,1341.3 L1265.6,1297.0 L1268.1,1320.2 L1270.6,1328.1 L1273.2,1335.5 L1275.7,1314.2 L1278.2,1302.2 L1280.7,1299.4 L1283.2,1347.2 L1285.8,1344.6 L1288.3,1325.7 L1290.8,1291.1 L1293.3,1347.4 L1295.9,1313.7 L1298.4,1329.3 L1300.9,1320.1 L1303.4,1314.6 L1305.9,1282.9 L1308.5,1326.7 L1311.0,1307.2 L1313.5,1311.5 L1316.0,1296.8 L1318.6,1303.6 L1321.1,1299.7 L1323.6,1296.9 L1326.1,1287.6 L1328.6,1310.2 L1331.2,1312.0 L1333.7,1287.7 L1336.2,1282.4 L1338.7,1326.7 L1341.2,1289.3 L1343.8,1315.3 L1346.3,1290.7 L1348.8,1319.7 L1351.3,1270.5 L1353.9,1271.4 L1356.4,1274.2 L1358.9,1271.2 L1361.4,1287.1 L1363.9,1305.8 L1366.5,1306.1 L1369.0,1294.3 L1371.5,1291.7 L1374.0,1302.2 L1376.6,1269.8 L1379.1,1275.7 L1381.6,1275.3 L1384.1,1253.0 L1386.6,1254.4 L1389.2,1236.9 L1391.7,1220.7 L1394.2,1213.1 L1396.7,1223.5 L1399.3,1214.0 L1401.8,1192.8 L1404.3,1172.7 L1406.8,1198.8 L1409.3,1181.9 L1411.9,1193.8 L1414.4,1169.2 L1416.9,1146.6 L1419.4,1147.0 L1422.0,1134.4 L1424.5,1151.0 L1427.0,1106.3 L1429.5,1116.6 L1432.0,1113.0 L1434.6,1090.6 L1437.1,1108.3 L1439.6,1105.5 L1442.1,1103.1 L1444.7,1098.4 L1447.2,1085.8 L1449.7,1090.4 L1452.2,1093.1 L1454.7,1080.0 L1457.3,1080.3 L1459.8,1077.8 L1462.3,1080.3 L1464.8,1070.7 L1467.3,1077.7 L1469.9,1076.3 L1472.4,1084.4 L1474.9,1089.0 L1477.4,1082.4 L1480.0,1102.4 L1482.5,1107.4 L1485.0,1105.8 L1487.5,1092.6 L1490.0,1086.9 L1492.6,1093.5 L1495.1,1100.0 L1497.6,1115.4 L1500.1,1115.8 L1502.7,1128.6 L1505.2,1130.6 L1507.7,1123.7 L1510.2,1118.4 L1512.7,1122.9 L1515.3,1132.0 L1517.8,1151.2 L1520.3,1172.6 L1522.8,1158.3 L1525.4,1179.3 L1527.9,1172.7 L1530.4,1191.5 L1532.9,1204.8 L1535.4,1213.2 L1538.0,1207.5 L1540.5,1204.4 L1543.0,1221.1 L1545.5,1208.2 L1548.1,1208.6 L1550.6,1227.4 L1553.1,1253.0 L1555.6,1228.8 L1558.1,1258.3 L1560.7,1260.2 L1563.2,1250.3 L1565.7,1247.0 L1568.2,1234.6 L1570.8,1240.6 L1573.3,1258.5 L1575.8,1266.0 L1578.3,1246.2 L1580.8,1248.0 L1583.4,1247.6 L1585.9,1292.1 L1588.4,1243.9 L1590.9,1244.8 L1593.4,1283.9 L1596.0,1253.8 L1598.5,1285.6 L1601.0,1260.0 L1603.5,1288.5 L1606.1,1295.0 L1608.6,1269.3 L1611.1,1277.7 L1613.6,1265.1 L1616.1,1294.9 L1618.7,1278.8 L1621.2,1271.1 L1623.7,1291.2 L1626.2,1288.9 L1628.8,1281.3 L1631.3,1274.3 L1633.8,1293.9 L1636.3,1269.3 L1638.8,1268.2 L1641.4,1279.4 L1643.9,1293.1 L1646.4,1281.3 L1648.9,1316.1 L1651.5,1275.5 L1654.0,1279.8 L1656.5,1280.8 L1659.0,1320.5 L1661.5,1261.6 L1664.1,1280.9 L1666.6,1287.9 L1669.1,1272.5 L1671.6,1266.3 L1674.2,1290.2 L1676.7,1299.9 L1679.2,1293.2 L1681.7,1274.4 L1684.2,1265.1 L1686.8,1278.8 L1689.3,1244.5 L1691.8,1258.4 L1694.3,1294.6 L1696.9,1281.2 L1699.4,1279.3 L1701.9,1276.0 L1704.4,1275.1 L1706.9,1269.8 L1709.5,1292.9 L1712.0,1293.4 L1714.5,1295.2 L1717.0,1254.9 L1719.5,1310.1 L1722.1,1305.2 L1724.6,1342.8 L1727.1,1286.9 L1729.6,1263.4 L1732.2,1279.0 L1734.7,1335.7 L1737.2,1335.7 L1739.7,1293.5 L1742.2,1300.1 L1744.8,1325.9 L1747.3,1326.3 L1749.8,1329.7 L1752.3,1308.2 L1754.9,1348.7 L1757.4,1326.6 L1759.9,1306.1 L1762.4,1326.4 L1764.9,1295.8 L1767.5,1298.0 L1770.0,1306.8 L1772.5,1298.0 L1775.0,1308.9 L1777.6,1306.9 L1780.1,1310.9 L1782.6,1305.2 L1785.1,1339.4 L1787.6,1305.2 L1790.2,1313.9 L1792.7,1308.6 L1795.2,1314.0 L1797.7,1370.0 L1800.3,1359.3 L1802.8,1319.4 L1805.3,1337.8 L1807.8,1317.9 L1810.3,1302.1 L1812.9,1316.4 L1815.4,1315.1 L1817.9,1307.4 L1820.4,1331.6 L1823.0,1358.8 L1825.5,1336.1 L1828.0,1352.2 L1830.5,1358.2 L1833.0,1304.0 L1835.6,1371.9 L1838.1,1317.6 L1840.6,1374.0 L1843.1,1347.3 L1845.6,1355.6 L1848.2,1384.1 L1850.7,1364.8 L1853.2,1318.5 L1855.7,1315.5 L1858.3,1326.7 L1860.8,1366.1 L1863.3,1354.5 L1865.8,1363.4 L1868.3,1401.0 L1870.9,1365.7 L1873.4,1383.5 L1875.9,1309.2 L1878.4,1328.0 L1881.0,1352.1 L1883.5,1317.7 L1886.0,1294.5 L1888.5,1319.9 L1891.0,1337.7 L1893.6,1347.1 L1896.1,1314.4 L1898.6,1310.9 L1901.1,1286.6 L1903.7,1323.8 L1906.2,1358.9 L1908.7,1320.5 L1911.2,1360.0 L1913.7,1285.5 L1916.3,1346.3 L1918.8,1356.9 L1921.3,1376.9 L1923.8,1427.0 L1926.4,1409.4 L1928.9,1371.6 L1931.4,1329.3 L1933.9,1368.0 L1936.4,1349.9 L1939.0,1322.1 L1941.5,1340.3 L1944.0,1354.1 L1946.5,1349.7 L1949.1,1341.1 L1951.6,1322.0 L1954.1,1337.1 L1956.6,1352.9 L1959.1,1366.7 L1961.7,1339.0 L1964.2,1340.9 L1966.7,1342.1 L1969.2,1320.9 L1971.7,1295.8 L1974.3,1315.6 L1976.8,1321.6 L1979.3,1328.3 L1981.8,1323.9 L1984.4,1310.8 L1986.9,1314.0 L1989.4,1319.5 L1991.9,1309.1 L1994.4,1310.2 L1997.0,1295.8 L1999.5,1319.3 L2002.0,1327.7 L2004.5,1309.8 L2007.1,1309.0 L2009.6,1307.6 L2012.1,1281.0 L2014.6,1288.3 L2017.1,1287.7 L2019.7,1314.0 L2022.2,1292.1 L2024.7,1314.8 L2027.2,1288.9 L2029.8,1337.2 L2032.3,1309.8 L2034.8,1280.3 L2037.3,1284.3 L2039.8,1310.5 L2042.4,1279.5 L2044.9,1252.4 L2047.4,1271.1 L2049.9,1261.1 L2052.5,1272.8 L2055.0,1264.6 L2057.5,1239.3 L2060.0,1267.1 L2062.5,1278.6 L2065.1,1285.7 L2067.6,1270.9 L2070.1,1293.8 L2072.6,1288.4 L2075.2,1277.9 L2077.7,1288.3 L2080.2,1234.0 L2082.7,1282.1 L2085.2,1284.0 L2087.8,1260.6 L2090.3,1289.7 L2092.8,1248.1 L2095.3,1251.3 L2097.8,1247.4 L2100.4,1231.5 L2102.9,1239.3 L2105.4,1214.8 L2107.9,1234.6 L2110.5,1278.6 L2113.0,1256.9 L2115.5,1228.8 L2118.0,1249.6 L2120.5,1229.4 L2123.1,1204.9 L2125.6,1211.0 L2128.1,1215.9 L2130.6,1213.9 L2133.2,1218.2 L2135.7,1193.1 L2138.2,1188.4 L2140.7,1197.3 L2143.2,1178.7 L2145.8,1178.1 L2148.3,1169.0 L2150.8,1173.8 L2153.3,1170.5 L2155.9,1150.1 L2158.4,1165.3 L2160.9,1139.7 L2163.4,1143.4 L2165.9,1130.0 L2168.5,1144.2 L2171.0,1122.4 L2173.5,1118.4 L2176.0,1107.5 L2178.6,1098.4 L2181.1,1094.0 L2183.6,1092.3 L2186.1,1070.9 L2188.6,1059.8 L2191.2,1072.2 L2193.7,1073.1 L2196.2,1049.9 L2198.7,1056.8 L2201.3,1043.5 L2203.8,1045.0 L2206.3,1045.7 L2208.8,1038.1 L2211.3,1031.9 L2213.9,1017.7 L2216.4,1028.6 L2218.9,1028.1 L2221.4,1034.1 L2223.9,1017.0 L2226.5,1017.9 L2229.0,1019.3 L2231.5,1030.3 L2234.0,1016.8 L2236.6,1031.9 L2239.1,1017.9 L2241.6,1006.3 L2244.1,1005.7 L2246.6,1015.0 L2249.2,1034.4 L2251.7,1030.5 L2254.2,1032.7 L2256.7,1042.2 L2259.3,1060.5 L2261.8,1060.8 L2264.3,1062.3 L2266.8,1066.4 L2269.3,1072.7 L2271.9,1071.1 L2274.4,1073.4 L2276.9,1100.2 L2279.4,1093.3 L2282.0,1100.6 L2284.5,1100.7 L2287.0,1117.3 L2289.5,1133.1 L2292.0,1123.5 L2294.6,1144.5 L2297.1,1149.8 L2299.6,1153.9 L2302.1,1154.0 L2304.7,1162.4 L2307.2,1188.9 L2309.7,1178.1 L2312.2,1176.5 L2314.7,1200.2 L2317.3,1196.4 L2319.8,1244.8 L2322.3,1202.2 L2324.8,1201.9 L2327.4,1230.9 L2329.9,1231.7 L2332.4,1209.7 L2334.9,1260.1 L2337.4,1231.8 L2340.0,1252.5 L2342.5,1235.2 L2345.0,1257.7 L2347.5,1272.2 L2350.0,1258.0 L2352.6,1278.5 L2355.1,1308.1 L2357.6,1308.7 L2360.1,1294.5 L2362.7,1302.3 L2365.2,1291.4 L2367.7,1295.5 L2370.2,1298.5 L2372.7,1291.4 L2375.3,1270.7 L2377.8,1277.5 L2380.3,1314.9 L2382.8,1322.3 L2385.4,1320.6 L2387.9,1315.0 L2390.4,1319.3 L2392.9,1308.8 L2395.4,1352.5 L2398.0,1306.7 L2400.5,1365.3 L2403.0,1331.5 L2405.5,1374.2 L2408.1,1359.9 L2410.6,1325.9 L2413.1,1330.8 L2415.6,1318.0 L2418.1,1351.7 L2420.7,1326.9 L2423.2,1332.5 L2425.7,1315.1 L2428.2,1340.6 L2430.8,1306.1 L2433.3,1304.5 L2435.8,1320.3 L2438.4,1256.6"/>
<path class="cv" stroke="#000080" d="M269.4,1458.8 L271.9,1431.8 L274.4,1432.4 L277.0,1436.7 L279.5,1439.2 L282.0,1417.3 L284.5,1403.9 L287.1,1352.1 L289.6,1373.7 L292.1,1408.7 L294.6,1405.3 L297.1,1409.5 L299.7,1419.6 L302.2,1395.6 L304.7,1396.6 L307.2,1377.4 L309.8,1327.1 L312.3,1349.0 L314.8,1375.5 L317.3,1373.6 L319.8,1363.6 L322.4,1326.3 L324.9,1318.5 L327.4,1336.4 L329.9,1308.8 L332.4,1343.9 L335.0,1309.6 L337.5,1301.5 L340.0,1314.4 L342.5,1289.2 L345.1,1287.7 L347.6,1295.7 L350.1,1292.7 L352.6,1277.5 L355.1,1270.0 L357.7,1288.6 L360.2,1291.8 L362.7,1275.8 L365.2,1276.9 L367.8,1278.8 L370.3,1267.5 L372.8,1242.8 L375.3,1250.2 L377.8,1245.0 L380.4,1260.7 L382.9,1241.5 L385.4,1254.7 L387.9,1213.5 L390.5,1221.2 L393.0,1213.7 L395.5,1214.0 L398.0,1216.4 L400.5,1188.5 L403.1,1198.3 L405.6,1204.1 L408.1,1218.5 L410.6,1211.6 L413.2,1236.2 L415.7,1201.3 L418.2,1181.6 L420.7,1192.5 L423.2,1180.9 L425.8,1180.5 L428.3,1157.2 L430.8,1173.7 L433.3,1150.9 L435.9,1137.1 L438.4,1146.2 L440.9,1150.6 L443.4,1130.8 L445.9,1145.4 L448.5,1134.3 L451.0,1129.7 L453.5,1127.4 L456.0,1137.9 L458.5,1126.4 L461.1,1114.5 L463.6,1111.5 L466.1,1113.6 L468.6,1089.3 L471.2,1087.7 L473.7,1069.4 L476.2,1070.2 L478.7,1057.2 L481.2,1053.8 L483.8,1057.1 L486.3,1044.6 L488.8,1047.4 L491.3,1038.4 L493.9,1039.0 L496.4,1037.0 L498.9,1033.9 L501.4,1019.0 L503.9,1019.7 L506.5,1005.6 L509.0,1000.2 L511.5,975.7 L514.0,957.4 L516.6,946.6 L519.1,933.8 L521.6,923.9 L524.1,908.5 L526.6,896.9 L529.2,882.9 L531.7,875.9 L534.2,874.9 L536.7,874.5 L539.3,872.1 L541.8,879.0 L544.3,873.6 L546.8,865.5 L549.3,863.7 L551.9,856.8 L554.4,852.8 L556.9,846.8 L559.4,847.7 L562.0,839.8 L564.5,839.0 L567.0,833.0 L569.5,838.5 L572.0,843.2 L574.6,844.2 L577.1,854.1 L579.6,864.2 L582.1,870.4 L584.6,892.3 L587.2,911.6 L589.7,933.0 L592.2,950.4 L594.7,975.4 L597.3,999.4 L599.8,1010.8 L602.3,1021.6 L604.8,1049.0 L607.3,1076.2 L609.9,1084.1 L612.4,1110.3 L614.9,1128.0 L617.4,1160.2 L620.0,1175.8 L622.5,1195.6 L625.0,1222.9 L627.5,1219.8 L630.0,1244.0 L632.6,1228.0 L635.1,1257.8 L637.6,1272.5 L640.1,1265.3 L642.7,1308.6 L645.2,1284.2 L647.7,1335.0 L650.2,1286.8 L652.7,1292.5 L655.3,1294.5 L657.8,1312.2 L660.3,1341.2 L662.8,1322.1 L665.4,1325.7 L667.9,1358.5 L670.4,1355.4 L672.9,1368.4 L675.4,1380.0 L678.0,1383.7 L680.5,1420.5 L683.0,1377.8 L685.5,1397.5 L688.1,1378.1 L690.6,1382.3 L693.1,1397.0 L695.6,1421.3 L698.1,1441.5 L700.7,1415.7 L703.2,1409.5 L705.7,1390.7 L708.2,1428.3 L710.7,1405.4 L713.3,1464.5 L715.8,1437.8 L718.3,1464.5 L720.8,1465.2 L723.4,1483.9 L725.9,1491.9 L728.4,1471.9 L730.9,1483.8 L733.4,1503.5 L736.0,1458.9 L738.5,1424.9 L741.0,1451.6 L743.5,1406.0 L746.1,1433.4 L748.6,1480.1 L751.1,1460.3 L753.6,1477.5 L756.1,1445.7 L758.7,1510.3 L761.2,1460.4 L763.7,1452.1 L766.2,1441.5 L768.8,1516.1 L771.3,1536.4 L773.8,1598.0 L776.3,1551.9 L778.8,1480.3 L781.4,1513.0 L783.9,1472.9 L786.4,1521.2 L788.9,1500.4 L791.5,1469.3 L794.0,1510.6 L796.5,1539.0 L799.0,1506.8 L801.5,1509.8 L804.1,1515.0 L806.6,1521.7 L809.1,1551.4 L811.6,1553.6 L814.2,1475.0 L816.7,1550.8 L819.2,1517.7 L821.7,1560.5 L824.2,1532.1 L826.8,1543.5 L829.3,1514.9 L831.8,1505.2 L834.3,1553.5 L836.8,1605.0 L839.4,1608.4 L841.9,1579.2 L844.4,1563.5 L846.9,1574.0 L849.5,1533.6 L852.0,1548.7 L854.5,1511.5 L857.0,1545.9 L859.5,1537.2 L862.1,1543.5 L864.6,1596.4 L867.1,1538.7 L869.6,1482.5 L872.2,1482.6 L874.7,1537.1 L877.2,1555.2 L879.7,1520.7 L882.2,1563.0 L884.8,1583.6 L887.3,1509.5 L889.8,1583.0 L892.3,1532.3 L894.9,1539.5 L897.4,1617.6 L899.9,1616.3 L902.4,1518.4 L904.9,1549.1 L907.5,1567.5 L910.0,1584.2 L912.5,1565.6 L915.0,1580.6 L917.6,1542.4 L920.1,1588.5 L922.6,1595.3 L925.1,1539.3 L927.6,1619.4 L930.2,1577.1 L932.7,1575.0 L935.2,1581.9 L937.7,1538.5 L940.3,1562.0 L942.8,1561.4 L945.3,1612.0 L947.8,1575.9 L950.3,1656.0 L952.9,1556.4 L955.4,1580.4 L957.9,1612.1 L960.4,1539.1 L962.9,1583.5 L965.5,1594.0 L968.0,1633.6 L970.5,1600.1 L973.0,1619.7 L975.6,1586.0 L978.1,1643.0 L980.6,1549.2 L983.1,1569.7 L985.6,1594.3 L988.2,1583.3 L990.7,1578.9 L993.2,1641.4 L995.7,1533.6 L998.3,1564.6 L1000.8,1653.5 L1003.3,1602.5 L1005.8,1721.0 L1008.3,1564.6 L1010.9,1617.6 L1013.4,1615.2 L1015.9,1618.7 L1018.4,1561.8 L1021.0,1601.0 L1023.5,1589.8 L1026.0,1606.4 L1028.5,1681.6 L1031.0,1607.6 L1033.6,1631.8 L1036.1,1551.2 L1038.6,1611.5 L1041.1,1634.3 L1043.7,1613.8 L1046.2,1589.4 L1048.7,1595.3 L1051.2,1578.3 L1053.7,1599.8 L1056.3,1566.6 L1058.8,1597.9 L1061.3,1575.0 L1063.8,1559.8 L1066.4,1641.9 L1068.9,1551.8 L1071.4,1652.7 L1073.9,1544.0 L1076.4,1624.4 L1079.0,1599.5 L1081.5,1545.7 L1084.0,1571.7 L1086.5,1553.5 L1089.0,1551.0 L1091.6,1598.0 L1094.1,1545.0 L1096.6,1527.0 L1099.1,1610.4 L1101.7,1593.1 L1104.2,1584.7 L1106.7,1579.0 L1109.2,1607.4 L1111.7,1643.0 L1114.3,1588.2 L1116.8,1576.6 L1119.3,1623.8 L1121.8,1635.5 L1124.4,1610.1 L1126.9,1656.9 L1129.4,1627.4 L1131.9,1600.6 L1134.4,1636.1 L1137.0,1601.5 L1139.5,1599.6 L1142.0,1581.6 L1144.5,1604.2 L1147.1,1544.9 L1149.6,1571.0 L1152.1,1710.5 L1154.6,1531.6 L1157.1,1521.0 L1159.7,1581.9 L1162.2,1566.9 L1164.7,1601.4 L1167.2,1556.9 L1169.8,1615.6 L1172.3,1629.6 L1174.8,1551.8 L1177.3,1623.6 L1179.8,1596.6 L1182.4,1622.1 L1184.9,1620.8 L1187.4,1567.9 L1189.9,1547.3 L1192.5,1560.6 L1195.0,1577.3 L1197.5,1618.9 L1200.0,1636.1 L1202.5,1595.3 L1205.1,1625.4 L1207.6,1534.3 L1210.1,1550.9 L1212.6,1550.3 L1215.1,1582.7 L1217.7,1536.1 L1220.2,1565.2 L1222.7,1617.6 L1225.2,1607.7 L1227.8,1698.0 L1230.3,1565.7 L1232.8,1553.3 L1235.3,1588.2 L1237.8,1556.2 L1240.4,1578.6 L1242.9,1577.4 L1245.4,1595.4 L1247.9,1619.8 L1250.5,1619.6 L1253.0,1609.0 L1255.5,1579.6 L1258.0,1604.6 L1260.5,1577.9 L1263.1,1564.8 L1265.6,1549.7 L1268.1,1573.7 L1270.6,1600.4 L1273.2,1602.9 L1275.7,1583.1 L1278.2,1595.1 L1280.7,1562.0 L1283.2,1662.4 L1285.8,1579.3 L1288.3,1567.8 L1290.8,1595.0 L1293.3,1574.3 L1295.9,1588.4 L1298.4,1620.0 L1300.9,1560.0 L1303.4,1572.7 L1305.9,1573.9 L1308.5,1578.4 L1311.0,1625.7 L1313.5,1598.1 L1316.0,1606.9 L1318.6,1513.6 L1321.1,1581.0 L1323.6,1572.1 L1326.1,1603.6 L1328.6,1558.9 L1331.2,1541.3 L1333.7,1580.2 L1336.2,1560.7 L1338.7,1566.3 L1341.2,1602.8 L1343.8,1556.1 L1346.3,1572.1 L1348.8,1576.8 L1351.3,1552.8 L1353.9,1553.2 L1356.4,1602.8 L1358.9,1567.1 L1361.4,1531.7 L1363.9,1532.1 L1366.5,1538.7 L1369.0,1522.9 L1371.5,1537.0 L1374.0,1565.9 L1376.6,1524.6 L1379.1,1556.4 L1381.6,1541.3 L1384.1,1521.5 L1386.6,1530.6 L1389.2,1544.7 L1391.7,1489.0 L1394.2,1517.4 L1396.7,1523.0 L1399.3,1474.7 L1401.8,1544.3 L1404.3,1492.3 L1406.8,1455.0 L1409.3,1473.1 L1411.9,1429.1 L1414.4,1426.0 L1416.9,1411.2 L1419.4,1450.5 L1422.0,1439.3 L1424.5,1394.9 L1427.0,1386.8 L1429.5,1381.4 L1432.0,1365.0 L1434.6,1356.0 L1437.1,1359.2 L1439.6,1380.8 L1442.1,1336.0 L1444.7,1354.8 L1447.2,1339.2 L1449.7,1305.9 L1452.2,1367.1 L1454.7,1309.9 L1457.3,1337.1 L1459.8,1312.1 L1462.3,1320.0 L1464.8,1283.1 L1467.3,1292.6 L1469.9,1291.4 L1472.4,1293.2 L1474.9,1293.4 L1477.4,1298.2 L1480.0,1307.4 L1482.5,1332.3 L1485.0,1311.3 L1487.5,1319.2 L1490.0,1294.2 L1492.6,1315.7 L1495.1,1308.0 L1497.6,1325.1 L1500.1,1340.3 L1502.7,1318.6 L1505.2,1338.0 L1507.7,1363.6 L1510.2,1373.3 L1512.7,1357.7 L1515.3,1385.9 L1517.8,1383.7 L1520.3,1386.7 L1522.8,1384.4 L1525.4,1403.1 L1527.9,1416.0 L1530.4,1399.1 L1532.9,1424.7 L1535.4,1471.8 L1538.0,1417.6 L1540.5,1462.0 L1543.0,1451.3 L1545.5,1441.8 L1548.1,1466.4 L1550.6,1479.0 L1553.1,1477.4 L1555.6,1515.7 L1558.1,1473.3 L1560.7,1475.8 L1563.2,1511.0 L1565.7,1471.9 L1568.2,1535.9 L1570.8,1465.4 L1573.3,1485.4 L1575.8,1510.2 L1578.3,1511.7 L1580.8,1560.2 L1583.4,1505.8 L1585.9,1529.7 L1588.4,1536.6 L1590.9,1533.0 L1593.4,1597.5 L1596.0,1526.3 L1598.5,1529.4 L1601.0,1520.0 L1603.5,1566.7 L1606.1,1576.4 L1608.6,1554.7 L1611.1,1551.9 L1613.6,1518.7 L1616.1,1556.3 L1618.7,1550.7 L1621.2,1576.2 L1623.7,1551.8 L1626.2,1522.9 L1628.8,1534.4 L1631.3,1584.5 L1633.8,1513.2 L1636.3,1509.0 L1638.8,1545.4 L1641.4,1572.3 L1643.9,1611.6 L1646.4,1594.8 L1648.9,1585.0 L1651.5,1514.4 L1654.0,1550.9 L1656.5,1602.4 L1659.0,1535.9 L1661.5,1548.8 L1664.1,1570.3 L1666.6,1506.6 L1669.1,1556.2 L1671.6,1565.7 L1674.2,1600.4 L1676.7,1526.1 L1679.2,1569.9 L1681.7,1520.4 L1684.2,1518.8 L1686.8,1510.0 L1689.3,1546.5 L1691.8,1537.4 L1694.3,1560.4 L1696.9,1482.4 L1699.4,1514.9 L1701.9,1567.6 L1704.4,1578.6 L1706.9,1521.1 L1709.5,1495.4 L1712.0,1522.3 L1714.5,1533.2 L1717.0,1553.2 L1719.5,1559.6 L1722.1,1548.9 L1724.6,1552.5 L1727.1,1582.4 L1729.6,1518.4 L1732.2,1535.6 L1734.7,1550.5 L1737.2,1525.6 L1739.7,1563.1 L1742.2,1554.2 L1744.8,1517.8 L1747.3,1534.8 L1749.8,1535.5 L1752.3,1590.6 L1754.9,1588.3 L1757.4,1523.3 L1759.9,1558.1 L1762.4,1516.4 L1764.9,1552.5 L1767.5,1504.4 L1770.0,1561.9 L1772.5,1541.7 L1775.0,1514.9 L1777.6,1557.0 L1780.1,1567.2 L1782.6,1556.3 L1785.1,1551.3 L1787.6,1515.8 L1790.2,1566.4 L1792.7,1638.8 L1795.2,1533.1 L1797.7,1593.1 L1800.3,1512.7 L1802.8,1502.8 L1805.3,1522.5 L1807.8,1552.9 L1810.3,1541.4 L1812.9,1566.4 L1815.4,1543.5 L1817.9,1517.1 L1820.4,1563.0 L1823.0,1527.5 L1825.5,1555.8 L1828.0,1572.2 L1830.5,1550.6 L1833.0,1568.1 L1835.6,1508.8 L1838.1,1526.1 L1840.6,1539.2 L1843.1,1506.7 L1845.6,1564.0 L1848.2,1565.8 L1850.7,1552.6 L1853.2,1623.9 L1855.7,1547.6 L1858.3,1529.6 L1860.8,1544.9 L1863.3,1588.1 L1865.8,1571.0 L1868.3,1562.5 L1870.9,1573.3 L1873.4,1534.1 L1875.9,1548.7 L1878.4,1572.1 L1881.0,1592.2 L1883.5,1524.9 L1886.0,1569.6 L1888.5,1575.7 L1891.0,1552.9 L1893.6,1552.9 L1896.1,1537.8 L1898.6,1544.7 L1901.1,1537.3 L1903.7,1510.9 L1906.2,1579.7 L1908.7,1555.6 L1911.2,1535.6 L1913.7,1594.0 L1916.3,1568.6 L1918.8,1632.6 L1921.3,1562.1 L1923.8,1634.0 L1926.4,1617.5 L1928.9,1616.3 L1931.4,1615.3 L1933.9,1596.7 L1936.4,1602.2 L1939.0,1538.4 L1941.5,1615.5 L1944.0,1492.5 L1946.5,1548.4 L1949.1,1537.1 L1951.6,1578.6 L1954.1,1537.9 L1956.6,1583.0 L1959.1,1508.0 L1961.7,1588.5 L1964.2,1545.8 L1966.7,1581.3 L1969.2,1573.0 L1971.7,1529.1 L1974.3,1572.3 L1976.8,1536.6 L1979.3,1573.3 L1981.8,1566.5 L1984.4,1563.1 L1986.9,1543.2 L1989.4,1533.0 L1991.9,1531.8 L1994.4,1467.3 L1997.0,1543.2 L1999.5,1523.9 L2002.0,1535.8 L2004.5,1586.7 L2007.1,1542.7 L2009.6,1517.7 L2012.1,1556.1 L2014.6,1481.6 L2017.1,1532.8 L2019.7,1480.2 L2022.2,1505.6 L2024.7,1517.6 L2027.2,1479.3 L2029.8,1457.1 L2032.3,1518.6 L2034.8,1466.3 L2037.3,1493.4 L2039.8,1531.6 L2042.4,1532.1 L2044.9,1509.3 L2047.4,1462.7 L2049.9,1488.0 L2052.5,1486.0 L2055.0,1462.1 L2057.5,1492.2 L2060.0,1457.7 L2062.5,1449.9 L2065.1,1444.9 L2067.6,1424.1 L2070.1,1435.5 L2072.6,1437.7 L2075.2,1483.1 L2077.7,1462.6 L2080.2,1493.3 L2082.7,1473.1 L2085.2,1495.1 L2087.8,1497.9 L2090.3,1475.5 L2092.8,1458.7 L2095.3,1449.5 L2097.8,1467.5 L2100.4,1400.8 L2102.9,1457.2 L2105.4,1423.2 L2107.9,1441.5 L2110.5,1427.8 L2113.0,1448.8 L2115.5,1427.1 L2118.0,1495.5 L2120.5,1458.6 L2123.1,1399.0 L2125.6,1384.5 L2128.1,1374.2 L2130.6,1413.1 L2133.2,1386.0 L2135.7,1403.5 L2138.2,1419.9 L2140.7,1379.5 L2143.2,1388.1 L2145.8,1402.5 L2148.3,1374.5 L2150.8,1361.5 L2153.3,1396.5 L2155.9,1334.4 L2158.4,1305.9 L2160.9,1300.8 L2163.4,1337.7 L2165.9,1313.1 L2168.5,1303.3 L2171.0,1282.4 L2173.5,1290.1 L2176.0,1280.8 L2178.6,1260.1 L2181.1,1257.0 L2183.6,1265.2 L2186.1,1244.3 L2188.6,1231.7 L2191.2,1242.2 L2193.7,1216.2 L2196.2,1222.5 L2198.7,1196.8 L2201.3,1192.4 L2203.8,1189.6 L2206.3,1195.1 L2208.8,1195.4 L2211.3,1180.5 L2213.9,1185.9 L2216.4,1175.4 L2218.9,1176.9 L2221.4,1162.0 L2223.9,1165.4 L2226.5,1158.4 L2229.0,1156.4 L2231.5,1166.6 L2234.0,1155.8 L2236.6,1169.4 L2239.1,1173.0 L2241.6,1193.1 L2244.1,1187.4 L2246.6,1190.3 L2249.2,1175.3 L2251.7,1186.1 L2254.2,1215.2 L2256.7,1202.9 L2259.3,1202.7 L2261.8,1210.9 L2264.3,1207.3 L2266.8,1229.0 L2269.3,1229.1 L2271.9,1244.7 L2274.4,1254.7 L2276.9,1266.6 L2279.4,1271.5 L2282.0,1263.3 L2284.5,1279.5 L2287.0,1284.8 L2289.5,1320.9 L2292.0,1318.2 L2294.6,1323.5 L2297.1,1328.1 L2299.6,1347.2 L2302.1,1353.8 L2304.7,1343.3 L2307.2,1391.8 L2309.7,1380.3 L2312.2,1364.1 L2314.7,1406.7 L2317.3,1386.1 L2319.8,1438.4 L2322.3,1438.1 L2324.8,1450.7 L2327.4,1467.9 L2329.9,1419.3 L2332.4,1449.4 L2334.9,1451.2 L2337.4,1451.2 L2340.0,1452.1 L2342.5,1504.0 L2345.0,1479.4 L2347.5,1467.7 L2350.0,1479.7 L2352.6,1538.0 L2355.1,1493.9 L2357.6,1479.4 L2360.1,1490.9 L2362.7,1523.4 L2365.2,1502.2 L2367.7,1515.5 L2370.2,1533.4 L2372.7,1531.3 L2375.3,1543.5 L2377.8,1589.7 L2380.3,1556.2 L2382.8,1561.7 L2385.4,1506.9 L2387.9,1578.9 L2390.4,1591.3 L2392.9,1541.4 L2395.4,1569.5 L2398.0,1533.0 L2400.5,1572.1 L2403.0,1576.6 L2405.5,1513.5 L2408.1,1603.1 L2410.6,1613.6 L2413.1,1579.2 L2415.6,1558.0 L2418.1,1590.2 L2420.7,1619.9 L2423.2,1620.7 L2425.7,1596.5 L2428.2,1630.7 L2430.8,1642.7 L2433.3,1644.9 L2435.8,1645.2 L2438.4,1640.0"/>
<rect class="ax" x="118.7" y="16.2" width="2320.4" height="1727.8999999999999"/>
<path class="ax" d="M144.1,1744.1 V1727.0 M270.2,1744.1 V1711.0 M396.3,1744.1 V1727.0 M522.4,1744.1 V1711.0 M648.5,1744.1 V1727.0 M774.6,1744.1 V1711.0 M900.7,1744.1 V1727.0 M1026.8,1744.1 V1711.0 M1152.9,1744.1 V1727.0 M1279.0,1744.1 V1711.0 M1405.1,1744.1 V1727.0 M1531.2,1744.1 V1711.0 M1657.3,1744.1 V1727.0 M1783.4,1744.1 V1711.0 M1909.5,1744.1 V1727.0 M2035.6,1744.1 V1711.0 M2161.7,1744.1 V1727.0 M2287.8,1744.1 V1711.0 M2413.9,1744.1 V1727.0"/>
<text class="tk" transform="translate(270.2,1831.6) scale(1,1.04)">35</text>
<text class="tk" transform="translate(522.4,1831.6) scale(1,1.04)">40</text>
<text class="tk" transform="translate(774.6,1831.6) scale(1,1.04)">45</text>
<text class="tk" transform="translate(1026.8,1831.6) scale(1,1.04)">50</text>
<text class="tk" transform="translate(1279.0,1831.6) scale(1,1.04)">55</text>
<text class="tk" transform="translate(1531.2,1831.6) scale(1,1.04)">60</text>
<text class="tk" transform="translate(1783.4,1831.6) scale(1,1.04)">65</text>
<text class="tk" transform="translate(2035.6,1831.6) scale(1,1.04)">70</text>
<text class="tk" transform="translate(2287.8,1831.6) scale(1,1.04)">75</text>
<text id="ylab" transform="translate(73,951) rotate(-90)" style="font-size:82px;fill:#000">Intensity</text>
<text id="xlab" x="1173" y="1930.3" style="font-size:84.5px;fill:#000;font-style:italic">2</text>
<text id="xth" transform="translate(1217.2,1930.6) skewX(-9) scale(1.10,1)" style="font-family:'Liberation Serif','DejaVu Serif',serif;font-size:88px;fill:#000;font-style:italic">θ</text>
<text id="xsl" x="1259.3" y="1930.3" style="font-size:84.5px;fill:#000">/°</text>
<text class="lab" x="141.8" y="829.8">(a<tspan dx="0">)</tspan></text>
<text class="lab" x="142.8" y="1018.5">(b<tspan dx="0">)</tspan></text>
<text class="lab" x="135" y="1219.3">(c<tspan dx="5.5">)</tspan></text>
<text class="lab" x="132.6" y="1429.4">(d<tspan dx="4">)</tspan></text>
<text class="pk vc" transform="translate(444.1,511.5) rotate(-90) scale(1,1.02)">VC(111)</text>
<text class="pk mo" transform="translate(571.3,367) rotate(-90) scale(1,1.02)">Mo(110)</text>
<text class="pk vc" transform="translate(742.9,654) rotate(-90) scale(1,1.02)">VC(200)</text>
<text class="pk mo" transform="translate(1500.3,713) rotate(-90) scale(1,1.02)">Mo(200)</text>
<text class="pk vc" transform="translate(1693.1,788.8) rotate(-90) scale(1,1.02)">VC(220)</text>
<text class="pk mo" transform="translate(2250,689) rotate(-90) scale(1,1.02)">Mo(211)</text>
</svg>
</body></html>
